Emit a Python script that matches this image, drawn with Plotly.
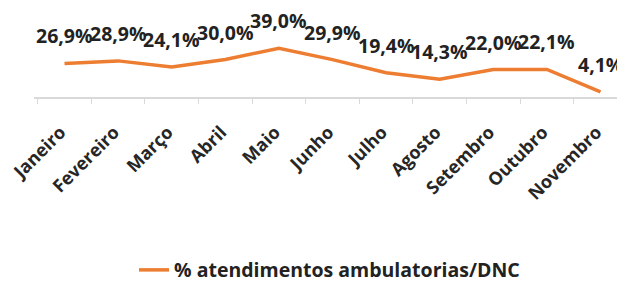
import plotly.graph_objects as go

months = ["Janeiro", "Fevereiro", "Março", "Abril", "Maio", "Junho",
          "Julho", "Agosto", "Setembro", "Outubro", "Novembro"]
values = [26.9, 28.9, 24.1, 30.0, 39.0, 29.9, 19.4, 14.3, 22.0, 22.1, 4.1]
labels = ["26,9%", "28,9%", "24,1%", "30,0%", "39,0%", "29,9%",
          "19,4%", "14,3%", "22,0%", "22,1%", "4,1%"]
series_name = "% atendimentos ambulatorias/DNC"

fig = go.Figure()
fig.add_trace(go.Scatter(
    x=months, y=values, mode="lines", name=series_name,
    line=dict(color="#ED7D31", width=3.5),
))
for m, v, t in zip(months, values, labels):
    fig.add_annotation(x=m, y=v, text=t, showarrow=False, yanchor="bottom",
                       yshift=12, font=dict(family="Open Sans", size=19.5,
                                            color="#222222", weight="bold"))

fig.update_layout(
    width=617, height=276,
    margin=dict(l=26, r=0, t=14, b=187),
    paper_bgcolor="white", plot_bgcolor="white",
    showlegend=True,
    legend=dict(orientation="h", x=0.5, xanchor="center",
                yref="container", y=0.05, yanchor="middle",
                font=dict(family="Open Sans", size=19.5, color="#222222", weight="bold")),
    xaxis=dict(showline=True, linecolor="#D9D9D9", linewidth=1.5,
               ticks="outside", tickcolor="#D9D9D9", ticklen=5,
               tickson="boundaries", tickangle=-45, showgrid=False,
               automargin=False, ticklabelstandoff=16, ticklabelshift=-4,
               tickfont=dict(family="Open Sans", size=18, color="#262626", weight="bold")),
    yaxis=dict(range=[0, 60], visible=False, automargin=False),
)
fig.write_html("out.html")
